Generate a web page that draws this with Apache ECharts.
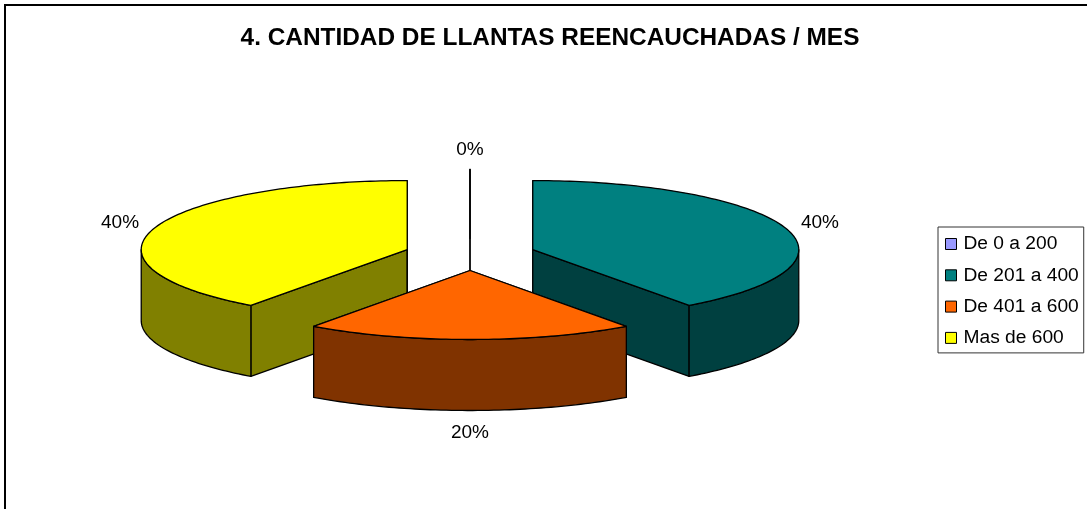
<!DOCTYPE html>
<html><head><meta charset="utf-8">
<script src="https://cdn.jsdelivr.net/npm/echarts@6/dist/echarts.min.js"></script>
<style>html,body{margin:0;padding:0;background:#fff}#c{width:1087px;height:509px}</style>
</head><body><div id="c"></div>
<script>
var titleText = '4. CANTIDAD DE LLANTAS REENCAUCHADAS / MES';
var categories = ['De 0 a 200', 'De 201 a 400', 'De 401 a 600', 'Mas de 600'];
var values = [0, 40, 20, 40];
var topColors = ['#9999ff', '#008080', '#ff6600', '#ffff00'];
var wallColors = ['#4d4d80', '#004040', '#803300', '#808000'];
var drawOrder = [0, 3, 1, 2];

var FONT = '"Liberation Sans", Arial, sans-serif';
var CX = 470, CY = 254.5, RX = 266, RY = 69, DEPTH = 71, EX = 66, EY = 16;
var total = values.reduce(function (a, b) { return a + b; }, 0);

function startOf(i) {
  var s = 0;
  for (var k = 0; k < i; k++) s += values[k];
  return s / total * 2 * Math.PI;
}
function arc(cx, cy, a0, a1) {
  var pts = [], n = Math.max(1, Math.ceil((a1 - a0) / 0.02));
  for (var k = 0; k <= n; k++) {
    var a = a0 + (a1 - a0) * k / n;
    pts.push([cx + RX * Math.sin(a), cy - RY * Math.cos(a)]);
  }
  return pts;
}
function poly(points, fill) {
  return { type: 'polygon', shape: { points: points },
    style: { fill: fill, stroke: '#000', lineWidth: 1.3, lineJoin: 'round' } };
}
function makeRender(i) {
  return function (params, api) {
    var v = api.value(0);
    var a0 = startOf(i), a1 = a0 + v / total * 2 * Math.PI, mid = (a0 + a1) / 2;
    var cx = CX + EX * Math.sin(mid), cy = CY - EY * Math.cos(mid);
    var kids = [];
    [a0, a1].forEach(function (a) {
      var p = arc(cx, cy, a, a)[0];
      kids.push(poly([[cx, cy], p, [p[0], p[1] + DEPTH], [cx, cy + DEPTH]], wallColors[i]));
    });
    var r0 = Math.max(a0, Math.PI / 2), r1 = Math.min(a1, 1.5 * Math.PI);
    if (r1 > r0) {
      var upper = arc(cx, cy, r0, r1);
      var lower = upper.map(function (p) { return [p[0], p[1] + DEPTH]; }).reverse();
      kids.push(poly(upper.concat(lower), wallColors[i]));
    }
    kids.push(poly([[cx, cy]].concat(arc(cx, cy, a0, a1)), topColors[i]));
    var lowerHalf = Math.cos(mid) < -0.5;
    kids.push({ type: 'text', style: {
      x: cx + (RX + 36) * Math.sin(mid),
      y: cy - (RY + 21) * Math.cos(mid) + (lowerHalf ? DEPTH : 0) + 1,
      text: v + '%', align: 'center', verticalAlign: 'middle',
      font: '19px ' + FONT, fill: '#000' } });
    return { type: 'group', children: kids };
  };
}
var series = drawOrder.map(function (i) {
  return { type: 'custom', name: categories[i], coordinateSystem: 'none',
    silent: true, animation: false, itemStyle: { color: topColors[i] },
    data: [[values[i]]], renderItem: makeRender(i) };
});
var chart = echarts.init(document.getElementById('c'), null, { renderer: 'canvas' });
chart.setOption({
  animation: false,
  backgroundColor: '#fff',
  title: { text: titleText, left: 545, top: 20, textAlign: 'center',
    textStyle: { fontFamily: FONT, fontSize: 24.4, fontWeight: 'bold', color: '#000', lineHeight: 26 } },
  legend: {
    data: categories, orient: 'vertical', left: 938, top: 227,
    padding: [7, 5, 5, 7], itemGap: 11.3, itemWidth: 11, itemHeight: 11, icon: 'rect',
    borderColor: '#333', borderWidth: 1, backgroundColor: '#fff', selectedMode: false,
    itemStyle: { borderColor: '#000', borderWidth: 1 },
    textStyle: { fontFamily: FONT, fontSize: 19.2, color: '#000', lineHeight: 20, width: 115, padding: [0, 0, 0, 2] }
  },
  graphic: [{ type: 'rect', silent: true, shape: { x: 5, y: 5, width: 1300, height: 700 },
    style: { fill: 'none', stroke: '#000', lineWidth: 2 } }],
  series: series
});
</script></body></html>
